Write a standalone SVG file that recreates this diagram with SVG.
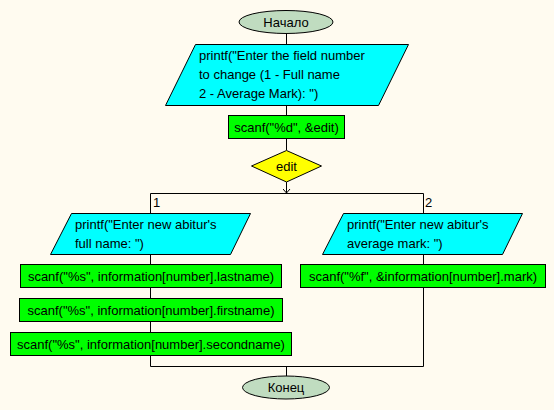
<svg xmlns="http://www.w3.org/2000/svg" width="554" height="410" viewBox="0 0 554 410">
<defs>
<style>
.bg{fill:#FFFBF0}
.term{fill:#C0DCC0;stroke:#000;stroke-width:1}
.io{fill:#00FFFF;stroke:#000;stroke-width:1}
.proc{fill:#00FF00;stroke:#000;stroke-width:1}
.dec{fill:#FFFF00;stroke:#000;stroke-width:1}
.ln{fill:none;stroke:#000;stroke-width:1}
text{font-family:"Liberation Sans",Arial,sans-serif;font-size:13px;fill:#000}
.c{text-anchor:middle}
</style>
<marker id="ar" markerWidth="8" markerHeight="8" refX="7" refY="4" orient="auto" markerUnits="userSpaceOnUse">
<path d="M3,0.5 L7,4 L3,7.5" fill="none" stroke="#000" stroke-width="1"/>
</marker>
</defs>
<rect class="bg" x="0" y="0" width="554" height="410"/>
<g id="connectors">
<path class="ln" d="M286.5,33.5 V44"/>
<path class="ln" d="M286.5,105 V115"/>
<path class="ln" d="M286.5,138 V150"/>
<path class="ln" d="M286.5,182 V193" marker-end="url(#ar)"/>
<path class="ln" d="M150.5,213 V193.5 H423.5 V213"/>
<path class="ln" d="M150.5,254 V264"/>
<path class="ln" d="M150.5,287 V298"/>
<path class="ln" d="M150.5,322 V332"/>
<path class="ln" d="M423.5,254 V264"/>
<path class="ln" d="M150.5,356 V366.5 H423.5 V288"/>
<path class="ln" d="M286.5,366.5 V376"/>
<text x="153" y="207">1</text>
<text x="425" y="207">2</text>
</g>
<g id="start">
<ellipse class="term" cx="286" cy="22" rx="47" ry="11.5"/>
<text class="c" x="286" y="26.5">Начало</text>
</g>
<g id="print1">
<polygon class="io" points="195.5,44.5 408.5,44.5 378.5,105.5 165.5,105.5"/>
<text x="199" y="59.5">printf("Enter the field number</text>
<text x="199" y="78.5">to change (1 - Full name</text>
<text x="199" y="97.5">2 - Average Mark): ")</text>
</g>
<g id="scan1">
<rect class="proc" x="228.5" y="115.5" width="116" height="23"/>
<text class="c" x="286.5" y="131.5">scanf("%d", &amp;edit)</text>
</g>
<g id="decision">
<polygon class="dec" points="286.5,150.5 321.5,166 286.5,182 251.5,166"/>
<text class="c" x="286.5" y="170.5">edit</text>
</g>
<g id="print2">
<polygon class="io" points="71.5,213.5 250.5,213.5 230.5,254.5 50.5,254.5"/>
<text x="75" y="228.5">printf("Enter new abitur's</text>
<text x="75" y="247.5">full name: ")</text>
</g>
<g id="scan_last">
<rect class="proc" x="20.5" y="264.5" width="261" height="23"/>
<text class="c" x="151" y="280.5">scanf("%s", information[number].lastname)</text>
</g>
<g id="scan_first">
<rect class="proc" x="19.5" y="298.5" width="263" height="23"/>
<text class="c" x="151" y="314.5">scanf("%s", information[number].firstname)</text>
</g>
<g id="scan_second">
<rect class="proc" x="10.5" y="332.5" width="281" height="23"/>
<text class="c" x="151" y="348.5">scanf("%s", information[number].secondname)</text>
</g>
<g id="print3">
<polygon class="io" points="343.5,213.5 522.5,213.5 502.5,254.5 322.5,254.5"/>
<text x="347" y="228.5">printf("Enter new abitur's</text>
<text x="347" y="247.5">average mark: ")</text>
</g>
<g id="scan_mark">
<rect class="proc" x="300.5" y="264.5" width="245" height="23"/>
<text class="c" x="423" y="280.5">scanf("%f", &amp;information[number].mark)</text>
</g>
<g id="end">
<ellipse class="term" cx="286" cy="387.5" rx="43.5" ry="11.5"/>
<text class="c" x="286" y="392">Конец</text>
</g>
</svg>
